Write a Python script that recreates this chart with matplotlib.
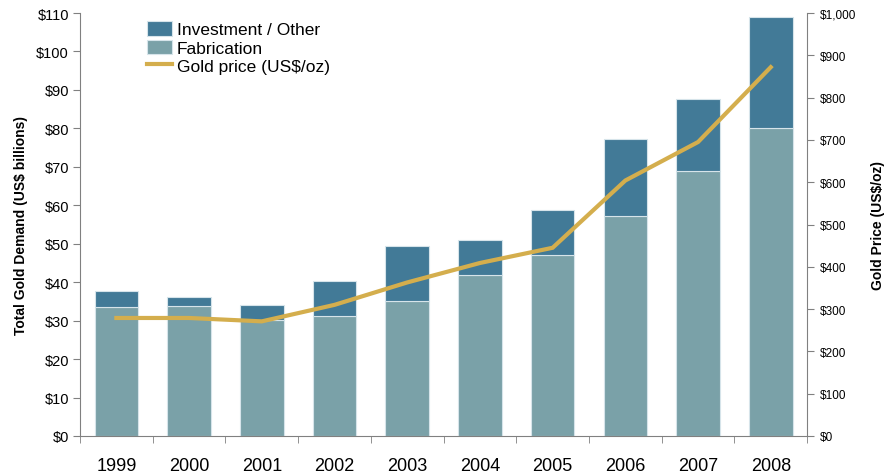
import numpy as np
import matplotlib
matplotlib.use("Agg")
import matplotlib.pyplot as plt
from matplotlib.ticker import FuncFormatter

plt.rcParams['font.family'] = ['Liberation Sans', 'DejaVu Sans']

years = ["1999", "2000", "2001", "2002", "2003", "2004", "2005", "2006", "2007", "2008"]
fabrication = [33.5, 33.8, 30.1, 31.2, 35.1, 41.9, 47.1, 57.1, 68.8, 80.1]
total_demand = [37.6, 36.1, 34.1, 40.2, 49.4, 50.9, 58.9, 77.3, 87.6, 109.0]
gold_price = [279, 279, 271, 310, 363, 409, 445, 604, 695, 872]

investment = [t - f for t, f in zip(total_demand, fabrication)]

c_inv = '#427a97'
c_fab = '#7aa1a8'
c_gold = '#d4ae4d'
c_axis = '#808080'

fig = plt.figure(figsize=(8.85, 4.77), dpi=100)
ax = fig.add_axes([0.0904, 0.0839, 0.8216, 0.8867])
x = np.arange(len(years))

b1 = ax.bar(x, fabrication, width=0.6, color=c_fab, edgecolor='#d6e4ea', linewidth=0.8,
            label='Fabrication', zorder=2)
b2 = ax.bar(x, investment, width=0.6, bottom=fabrication, color=c_inv, edgecolor='#d6e4ea',
            linewidth=0.8, label='Investment / Other', zorder=2)

ax.set_xlim(-0.5, len(years) - 0.5)
ax.set_ylim(0, 110)
ax.set_yticks(range(0, 111, 10))
ax.yaxis.set_major_formatter(FuncFormatter(lambda v, p: "${:d}".format(int(v))))
ax.set_xticks(x)
ax.set_xticklabels(years, fontsize=13)
ax.set_xticks(np.arange(-0.5, len(years), 1), minor=True)
ax.tick_params(axis='x', which='major', length=0, pad=15)
ax.tick_params(axis='x', which='minor', length=5, color=c_axis, direction='out')
ax.tick_params(axis='y', length=5, color=c_axis, labelsize=10.5, pad=3)
for s in ['top', 'right']:
    ax.spines[s].set_visible(False)
for s in ['left', 'bottom']:
    ax.spines[s].set_color(c_axis)
ax.set_ylabel('Total Gold Demand (US$ billions)', fontsize=10, fontweight='bold', labelpad=6)

ax2 = ax.twinx()
ln, = ax2.plot(x, gold_price, color=c_gold, linewidth=3, label='Gold price (US$/oz)',
               solid_joinstyle='miter', zorder=3)
ax2.set_ylim(0, 1000)
ax2.set_yticks(range(0, 1001, 100))
ax2.yaxis.set_major_formatter(FuncFormatter(lambda v, p: "${:,d}".format(int(v))))
ax2.tick_params(axis='y', length=5, color=c_axis, labelsize=8.5, pad=4)
for s in ['top', 'left', 'bottom']:
    ax2.spines[s].set_visible(False)
ax2.spines['right'].set_color(c_axis)
ax2.set_ylabel('Gold Price (US$/oz)', fontsize=10, fontweight='bold', labelpad=11)

ax.legend([b2, b1, ln], ['Investment / Other', 'Fabrication', 'Gold price (US$/oz)'],
          loc='upper left', bbox_to_anchor=(0.083, 0.997), frameon=False, fontsize=12.5,
          handlelength=1.45, handleheight=0.9, handletextpad=0.25, labelspacing=0.12,
          borderaxespad=0)

fig.savefig('out.png', dpi=100)
